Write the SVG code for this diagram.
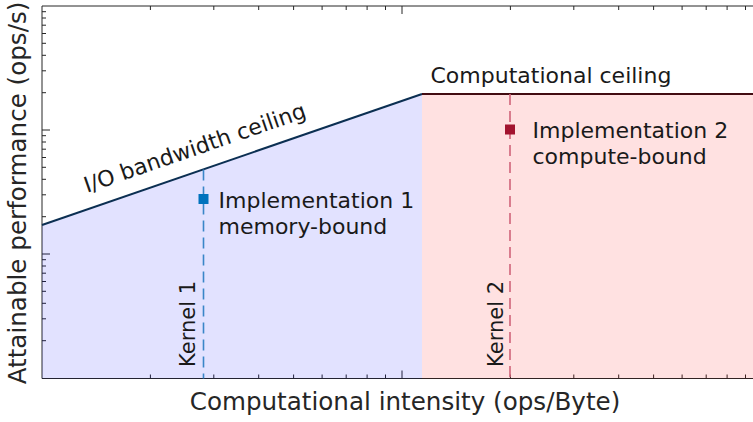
<svg xmlns="http://www.w3.org/2000/svg" width="753" height="422" viewBox="0 0 753 422">
<style>
text{font-family:"DejaVu Sans","Liberation Sans",sans-serif;}
.ann{font-size:22px;fill:#1a1a1a;}
.kern{font-size:21px;fill:#1a1a1a;}
.lab{font-size:24.6px;fill:#262626;}
.axis{stroke:#262626;stroke-width:1;fill:none;}
.tick{stroke:#262626;stroke-width:1;}
.k1{stroke:#3a86c8;stroke-width:1.6;stroke-dasharray:11 6;fill:none;}
.k2{stroke:#d0647a;stroke-width:1.6;stroke-dasharray:11 6;fill:none;}
</style>
<rect width="753" height="422" fill="#ffffff"/>
<g id="axes">
<path class="axis" d="M42,378.5 V6 H753 M42,378.5 H753"/>
<path class="tick" d="M402,378.5 v-8 M402,6 v8 M42,130 h8 M42,254 h8
M150.4,378.5 v-4 M213.8,378.5 v-4 M258.7,378.5 v-4 M293.6,378.5 v-4 M322.1,378.5 v-4 M346.2,378.5 v-4 M367.1,378.5 v-4 M385.5,378.5 v-4
M510.4,378.5 v-4 M573.8,378.5 v-4 M618.7,378.5 v-4 M653.6,378.5 v-4 M682.1,378.5 v-4 M706.2,378.5 v-4 M727.1,378.5 v-4 M745.5,378.5 v-4
M150.4,6 v4 M213.8,6 v4 M258.7,6 v4 M293.6,6 v4 M322.1,6 v4 M346.2,6 v4 M367.1,6 v4 M385.5,6 v4
M510.4,6 v4 M573.8,6 v4 M618.7,6 v4 M653.6,6 v4 M682.1,6 v4 M706.2,6 v4 M727.1,6 v4 M745.5,6 v4
M42,340.7 h4 M42,318.8 h4 M42,303.3 h4 M42,291.3 h4 M42,281.5 h4 M42,273.2 h4 M42,266 h4 M42,259.7 h4
M42,216.7 h4 M42,194.8 h4 M42,179.3 h4 M42,167.3 h4 M42,157.5 h4 M42,149.2 h4 M42,142 h4 M42,135.7 h4
M42,92.7 h4 M42,70.8 h4 M42,55.3 h4 M42,43.3 h4 M42,33.5 h4 M42,25.2 h4 M42,18 h4 M42,11.7 h4"/>
</g>
<g id="memory-region">
<polygon points="42,225 422,94 422,378.5 42,378.5" fill="#0000ff" fill-opacity="0.115"/>
</g>
<g id="compute-region">
<rect x="422" y="94" width="331" height="284.5" fill="#ff0000" fill-opacity="0.118"/>
</g>
<g id="connectors">
<line id="bandwidth-ceiling" x1="42" y1="225" x2="422" y2="94" stroke="#0b2f52" stroke-width="2"/>
<line id="computational-ceiling" x1="422" y1="94" x2="753" y2="94" stroke="#420c12" stroke-width="2"/>
<line class="k1" x1="203.5" y1="169.5" x2="203.5" y2="378.5"/>
<line class="k2" x1="510" y1="94" x2="510" y2="378.5"/>
</g>
<g id="implementation-1">
<rect x="198.5" y="194" width="10" height="10" fill="#0072bd"/>
<text class="ann" x="218.5" y="207.5">Implementation 1</text>
<text class="ann" x="218.5" y="233.5">memory-bound</text>
</g>
<g id="implementation-2">
<rect x="505" y="124.5" width="10" height="10" fill="#a2142f"/>
<text class="ann" x="532.5" y="137.5">Implementation 2</text>
<text class="ann" x="532.5" y="163.5">compute-bound</text>
</g>
<g id="kernel-1">
<text class="kern" transform="translate(195,367) rotate(-90)">Kernel 1</text>
</g>
<g id="kernel-2">
<text class="kern" transform="translate(503,367) rotate(-90)">Kernel 2</text>
</g>
<g id="labels">
<text class="ann" x="430.5" y="83.3">Computational ceiling</text>
<text class="ann" transform="translate(87,193) rotate(-19.02)">I/O bandwidth ceiling</text>
<text class="lab" x="405" y="410" text-anchor="middle">Computational intensity (ops/Byte)</text>
<text class="lab" transform="translate(26,193) rotate(-90)" text-anchor="middle">Attainable performance (ops/s)</text>
</g>
</svg>
